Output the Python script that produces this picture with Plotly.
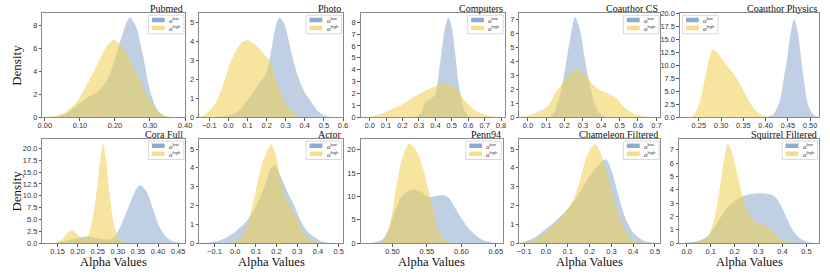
import plotly.graph_objects as go

# ---------------- data ----------------
titles = ["Pubmed", "Photo", "Computers", "Coauthor CS", "Coauthor Physics",
          "Cora Full", "Actor", "Penn94", "Chameleon Filtered", "Squirrel Filtered"]

pubmed_low_x = [0.0, 0.03, 0.06, 0.09, 0.12, 0.15, 0.18, 0.2, 0.22, 0.242, 0.26, 0.28, 0.3, 0.32, 0.34, 0.37, 0.40]
pubmed_low_y = [0.0, 0.05, 0.3, 1.0, 1.7, 2.2, 3.4, 5.1, 7.1, 8.7, 7.9, 5.4, 2.3, 0.7, 0.12, 0.0, 0.0]
pubmed_high_x = [0.0, 0.03, 0.06, 0.09, 0.11, 0.14, 0.167, 0.196, 0.214, 0.242, 0.27, 0.3, 0.33, 0.36, 0.4]
pubmed_high_y = [0.02, 0.12, 0.45, 1.3, 2.3, 4.0, 5.7, 6.75, 6.4, 5.1, 3.4, 1.45, 0.3, 0.04, 0.0]

photo_low_x = [-0.15, -0.05, 0.0, 0.05, 0.1, 0.15, 0.2, 0.22, 0.245, 0.266, 0.29, 0.31, 0.33, 0.36, 0.395, 0.43, 0.465, 0.5, 0.54, 0.6]
photo_low_y = [0.0, 0.02, 0.08, 0.3, 0.9, 1.6, 2.4, 3.3, 4.7, 5.27, 5.0, 4.3, 3.4, 2.3, 1.4, 0.85, 0.35, 0.1, 0.01, 0.0]
photo_high_x = [-0.15, -0.12, -0.07, -0.034, 0.0, 0.034, 0.07, 0.1, 0.137, 0.19, 0.223, 0.258, 0.292, 0.326, 0.36, 0.4, 0.6]
photo_high_y = [0.02, 0.15, 0.7, 1.5, 2.6, 3.4, 3.95, 4.07, 3.85, 3.3, 2.85, 1.7, 0.85, 0.35, 0.08, 0.01, 0.0]

computers_low_x = [0.25, 0.3, 0.32, 0.34, 0.37, 0.4, 0.42, 0.44, 0.46, 0.48, 0.5, 0.52, 0.54, 0.56, 0.58, 0.6, 0.63, 0.7]
computers_low_y = [0.0, 0.15, 0.6, 1.3, 1.5, 1.95, 3.6, 5.7, 7.6, 8.4, 7.6, 5.5, 3.0, 1.4, 0.45, 0.1, 0.0, 0.0]
computers_high_x = [-0.05, 0.0, 0.1, 0.2, 0.3, 0.4, 0.46, 0.52, 0.58, 0.64, 0.7, 0.78, 0.82]
computers_high_y = [0.0, 0.03, 0.45, 1.1, 1.95, 2.6, 2.9, 2.5, 1.4, 0.6, 0.2, 0.02, 0.0]

cs_low_x = [0.1, 0.122, 0.14, 0.176, 0.203, 0.23, 0.257, 0.283, 0.31, 0.337, 0.364, 0.39, 0.418, 0.45]
cs_low_y = [0.0, 0.05, 0.3, 1.65, 3.5, 5.6, 7.15, 6.3, 4.2, 2.35, 0.97, 0.28, 0.05, 0.0]
cs_high_x = [-0.04, 0.0, 0.05, 0.105, 0.158, 0.194, 0.23, 0.275, 0.32, 0.373, 0.427, 0.48, 0.534, 0.587, 0.64, 0.72]
cs_high_y = [0.02, 0.1, 0.35, 0.75, 1.9, 2.5, 3.15, 3.4, 2.9, 2.1, 1.75, 1.4, 0.6, 0.2, 0.05, 0.0]

physics_low_x = [0.39, 0.403, 0.418, 0.433, 0.44, 0.448, 0.455, 0.464, 0.473, 0.48, 0.488, 0.495, 0.507, 0.518, 0.53]
physics_low_y = [0.0, 0.05, 0.6, 3.5, 7.0, 11.0, 15.5, 18.9, 16.0, 11.0, 6.0, 2.5, 0.5, 0.05, 0.0]
physics_high_x = [0.21, 0.234, 0.249, 0.263, 0.274, 0.282, 0.293, 0.308, 0.322, 0.337, 0.352, 0.367, 0.381, 0.396, 0.411, 0.43]
physics_high_y = [0.0, 0.05, 2.0, 7.0, 11.5, 13.0, 12.3, 10.5, 9.0, 7.2, 4.8, 2.5, 1.0, 0.3, 0.05, 0.0]

cora_low_x = [0.12, 0.142, 0.175, 0.199, 0.219, 0.24, 0.264, 0.281, 0.293, 0.305, 0.322, 0.338, 0.354, 0.371, 0.387, 0.403, 0.42, 0.436, 0.452, 0.468]
cora_low_y = [0.0, 0.05, 0.6, 1.0, 1.35, 1.15, 0.8, 0.8, 1.5, 3.2, 6.6, 10.0, 12.2, 11.0, 7.3, 3.5, 1.3, 0.35, 0.05, 0.0]
cora_high_x = [0.13, 0.146, 0.162, 0.175, 0.187, 0.199, 0.211, 0.224, 0.236, 0.248, 0.256, 0.263, 0.271, 0.279, 0.289, 0.301, 0.313, 0.33]
cora_high_y = [0.0, 0.05, 0.8, 2.2, 2.7, 1.8, 1.0, 1.3, 4.6, 11.4, 17.5, 21.0, 17.5, 10.7, 4.6, 1.2, 0.2, 0.0]

actor_low_x = [-0.17, -0.12, -0.08, -0.04, 0.0, 0.047, 0.094, 0.142, 0.174, 0.19, 0.222, 0.253, 0.285, 0.316, 0.348, 0.38, 0.412, 0.444, 0.5]
actor_low_y = [0.0, 0.04, 0.12, 0.3, 0.6, 1.06, 1.8, 3.0, 4.0, 4.15, 3.5, 2.7, 2.0, 1.2, 0.63, 0.33, 0.12, 0.03, 0.0]
actor_high_x = [-0.03, 0.0, 0.031, 0.063, 0.094, 0.126, 0.158, 0.174, 0.19, 0.206, 0.222, 0.245, 0.269, 0.301, 0.324, 0.348, 0.38, 0.42]
actor_high_y = [0.0, 0.05, 0.3, 1.15, 2.5, 4.06, 5.0, 5.26, 4.9, 4.2, 3.2, 2.4, 1.9, 1.23, 0.63, 0.3, 0.08, 0.0]

penn_low_x = [0.46, 0.471, 0.486, 0.495, 0.505, 0.514, 0.524, 0.533, 0.543, 0.552, 0.562, 0.571, 0.581, 0.59, 0.6, 0.61, 0.619, 0.629, 0.638, 0.648, 0.66]
penn_low_y = [0.0, 0.05, 0.8, 3.2, 7.4, 10.1, 11.2, 11.4, 10.8, 9.8, 10.0, 10.3, 9.8, 7.7, 5.3, 3.2, 1.9, 0.8, 0.3, 0.05, 0.0]
penn_high_x = [0.46, 0.481, 0.49, 0.498, 0.505, 0.512, 0.519, 0.524, 0.531, 0.538, 0.545, 0.552, 0.56, 0.567, 0.574, 0.581, 0.6]
penn_high_y = [0.0, 0.1, 1.2, 5.3, 11.5, 17.0, 20.1, 21.3, 20.5, 18.8, 15.7, 11.5, 6.7, 2.6, 0.8, 0.1, 0.0]

cham_low_x = [-0.12, -0.1, -0.05, -0.016, 0.032, 0.079, 0.127, 0.175, 0.222, 0.254, 0.275, 0.302, 0.333, 0.365, 0.397, 0.43, 0.46, 0.49, 0.52]
cham_low_y = [0.02, 0.06, 0.3, 0.6, 1.05, 1.55, 2.2, 3.1, 3.9, 4.3, 4.45, 3.8, 2.5, 1.3, 0.6, 0.25, 0.07, 0.02, 0.0]
cham_high_x = [-0.12, -0.1, -0.06, -0.032, -0.016, 0.032, 0.079, 0.127, 0.159, 0.19, 0.225, 0.246, 0.27, 0.302, 0.333, 0.365, 0.397, 0.43, 0.47]
cham_high_y = [0.02, 0.05, 0.15, 0.3, 0.42, 0.95, 1.5, 2.35, 3.5, 4.7, 5.25, 4.9, 4.1, 2.8, 1.5, 0.63, 0.2, 0.05, 0.0]

squirrel_low_x = [-0.03, -0.007, 0.048, 0.089, 0.13, 0.171, 0.212, 0.24, 0.281, 0.322, 0.363, 0.39, 0.418, 0.445, 0.473, 0.5, 0.527, 0.553]
squirrel_low_y = [0.0, 0.01, 0.17, 0.53, 1.6, 2.7, 3.3, 3.55, 3.7, 3.72, 3.55, 2.95, 1.86, 0.9, 0.36, 0.12, 0.02, 0.0]
squirrel_high_x = [0.0, 0.02, 0.062, 0.089, 0.116, 0.137, 0.158, 0.171, 0.185, 0.205, 0.226, 0.247, 0.267, 0.295, 0.322, 0.349, 0.377, 0.404, 0.432, 0.46]
squirrel_high_y = [0.0, 0.02, 0.17, 0.53, 1.86, 4.0, 6.45, 7.46, 7.05, 5.7, 4.0, 2.8, 2.0, 1.5, 1.38, 1.0, 0.53, 0.17, 0.03, 0.0]

low_series = [(pubmed_low_x, pubmed_low_y), (photo_low_x, photo_low_y), (computers_low_x, computers_low_y),
              (cs_low_x, cs_low_y), (physics_low_x, physics_low_y), (cora_low_x, cora_low_y),
              (actor_low_x, actor_low_y), (penn_low_x, penn_low_y), (cham_low_x, cham_low_y),
              (squirrel_low_x, squirrel_low_y)]
high_series = [(pubmed_high_x, pubmed_high_y), (photo_high_x, photo_high_y), (computers_high_x, computers_high_y),
               (cs_high_x, cs_high_y), (physics_high_x, physics_high_y), (cora_high_x, cora_high_y),
               (actor_high_x, actor_high_y), (penn_high_x, penn_high_y), (cham_high_x, cham_high_y),
               (squirrel_high_x, squirrel_high_y)]

x_ranges = [[-0.007, 0.401], [-0.153, 0.6], [-0.054, 0.822], [-0.046, 0.722], [0.208, 0.52],
            [0.1125, 0.468], [-0.174, 0.521], [0.454, 0.66], [-0.122, 0.525], [-0.032, 0.553]]
x_dticks = [0.1, 0.1, 0.1, 0.1, 0.05, 0.05, 0.1, 0.05, 0.1, 0.1]
x_formats = [".2f", ".1f", ".1f", ".1f", ".2f", ".2f", ".1f", ".2f", ".1f", ".1f"]
y_ranges = [[0, 9.12], [0, 5.52], [0, 8.8], [0, 7.48], [0, 20.1],
            [0, 22.1], [0, 5.56], [0, 22.4], [0, 5.56], [0, 7.85]]
y_dticks = [2, 1, 1, 1, 2.5, 2.5, 1, 5, 1, 1]
y_formats = ["d", "d", "d", "d", ".1f", ".1f", "d", "d", "d", "d"]

legend_labels = ["<i>α</i><sup>low</sup>", "<i>α</i><sup>high</sup>"]

# ---------------- layout geometry (pixels) ----------------
W, H = 830, 278
boxes = [  # (left, right, top, bottom) in px
    (38, 183, 9, 117), (197, 343, 9, 117), (361, 507, 9, 117), (522, 665, 9, 117), (685, 826, 9, 117),
    (38, 183, 139, 247), (197, 343, 139, 247), (361, 505, 139, 247), (522, 665, 139, 247), (684, 826, 139, 247),
]
legend_left = [False, False, False, False, True, False, False, False, False, False]

BLUE_FILL = "rgba(122,156,200,0.48)"
YELLOW_FILL = "rgba(238,206,80,0.55)"
BLUE_PATCH = "rgba(122,156,200,0.85)"
YELLOW_PATCH = "rgba(242,212,110,0.8)"

def fx(p):
    return p / W

def fy(p):
    return 1 - p / H

fig = go.Figure()
layout = dict(width=W, height=H, autosize=False, margin=dict(l=0, r=0, t=0, b=0, pad=0),
              paper_bgcolor="white", plot_bgcolor="white", showlegend=False)
annotations = []
shapes = []
tickfont = dict(family="Liberation Sans, Arial, sans-serif", size=7.5, color="#333333")
serif = "Liberation Serif, Times New Roman, serif"

for i in range(10):
    n = i + 1
    xa = "x" if n == 1 else f"x{n}"
    ya = "y" if n == 1 else f"y{n}"
    l, r, t, b = boxes[i]
    lx, ly = low_series[i]
    hx, hy = high_series[i]
    fig.add_trace(go.Scatter(x=lx, y=ly, mode="lines", fill="tozeroy", fillcolor=BLUE_FILL,
                             line=dict(width=0, shape="spline", smoothing=0.8, color="rgba(0,0,0,0)"),
                             xaxis=xa, yaxis=ya, name="α low", hoverinfo="skip"))
    fig.add_trace(go.Scatter(x=hx, y=hy, mode="lines", fill="tozeroy", fillcolor=YELLOW_FILL,
                             line=dict(width=0, shape="spline", smoothing=0.8, color="rgba(0,0,0,0)"),
                             xaxis=xa, yaxis=ya, name="α high", hoverinfo="skip"))
    axcommon = dict(showgrid=False, zeroline=False, showline=True, mirror=True, linecolor="#8a8a8a",
                    linewidth=1.2, ticks="outside", ticklen=2.5, tickwidth=0.8, tickcolor="#555555",
                    tickfont=tickfont)
    layout["xaxis" if n == 1 else f"xaxis{n}"] = dict(
        axcommon, domain=[fx(l), fx(r)], range=x_ranges[i], tick0=0, dtick=x_dticks[i],
        tickformat=x_formats[i], anchor=ya, ticklabelstandoff=-2)
    layout["yaxis" if n == 1 else f"yaxis{n}"] = dict(
        axcommon, domain=[fy(b), fy(t)], range=y_ranges[i], tick0=0, dtick=y_dticks[i],
        tickformat=y_formats[i], anchor=xa)
    annotations.append(dict(text=titles[i], xref="paper", yref="paper", x=fx(r), y=fy(t - 4.2),
                            xanchor="right", yanchor="middle", showarrow=False,
                            font=dict(family=serif, size=10, color="#111111")))
    bw, bh = 36, 19
    if legend_left[i]:
        bl = l + 2.5
    else:
        bl = r - 1.5 - bw
    bt = t + 2.7
    shapes.append(dict(type="rect", xref="paper", yref="paper", x0=fx(bl), x1=fx(bl + bw),
                       y0=fy(bt + bh), y1=fy(bt), line=dict(color="#d0d0d0", width=0.8),
                       fillcolor="rgba(255,255,255,0.85)", layer="above"))
    for k, (col, lab) in enumerate([(BLUE_PATCH, legend_labels[0]), (YELLOW_PATCH, legend_labels[1])]):
        cy = bt + 4.8 + k * 8.3
        shapes.append(dict(type="rect", xref="paper", yref="paper", x0=fx(bl + 3.5), x1=fx(bl + 16.5),
                           y0=fy(cy + 2.3), y1=fy(cy - 2.3), line=dict(width=0), fillcolor=col,
                           layer="above"))
        annotations.append(dict(text=lab, xref="paper", yref="paper", x=fx(bl + 19), y=fy(cy),
                                xanchor="left", yanchor="middle", showarrow=False,
                                font=dict(family="Liberation Sans, Arial, sans-serif", size=6,
                                          color="#333333")))
    if i >= 5:
        annotations.append(dict(text="Alpha Values", xref="paper", yref="paper", x=fx((l + r) / 2),
                                y=fy(266.5), xanchor="center", yanchor="middle", showarrow=False,
                                font=dict(family=serif, size=12.5, color="#111111")))

for yc in (63, 193):
    annotations.append(dict(text="Density", xref="paper", yref="paper", x=fx(12), y=fy(yc),
                            xanchor="center", yanchor="middle", textangle=-90, showarrow=False,
                            font=dict(family=serif, size=13, color="#111111")))

layout["annotations"] = annotations
layout["shapes"] = shapes
fig.update_layout(**layout)
fig.write_html("out.html", config={"displayModeBar": False},
               post_script="document.body.style.margin='0';document.body.style.padding='0';"
                           "document.body.style.overflow='hidden';")
